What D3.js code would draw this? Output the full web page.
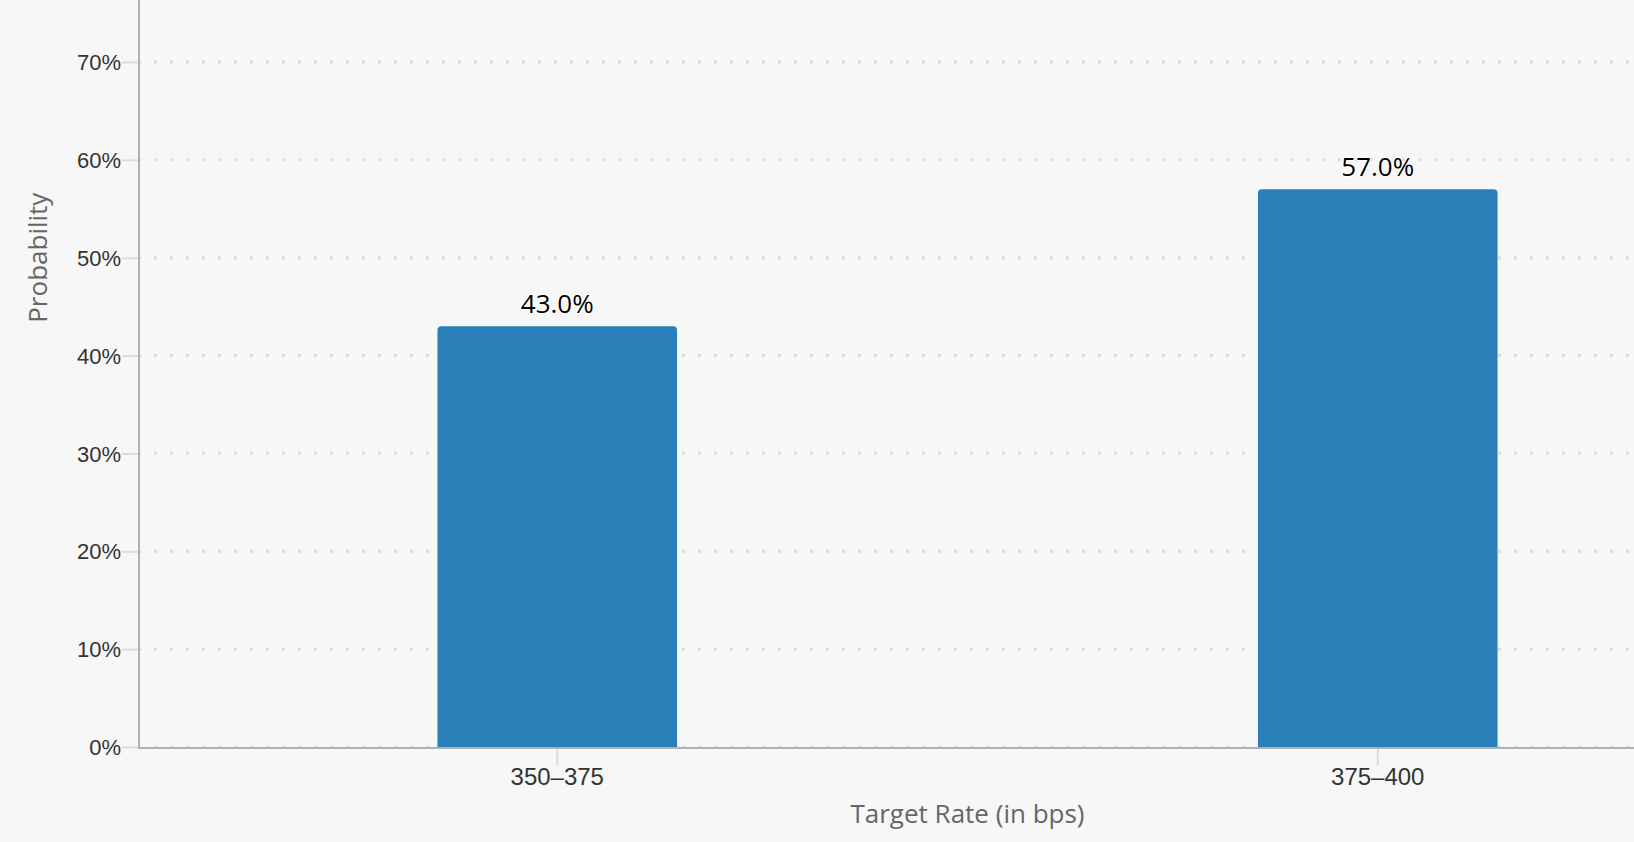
<!DOCTYPE html>
<html>
<head>
<meta charset="utf-8">
<script src="https://cdn.jsdelivr.net/npm/d3@7"></script>
<style>
  html, body { margin: 0; padding: 0; background: #f7f7f7; }
  svg { display: block; font-family: "Open Sans", "Noto Sans", sans-serif; }
</style>
</head>
<body>
<svg id="chart" width="1634" height="842"></svg>
<script>
const categories = ["350\u2013375", "375\u2013400"];
const probabilities = [0.43, 0.57];
const yTickValues = [0, 0.1, 0.2, 0.3, 0.4, 0.5, 0.6, 0.7];

const width = 1634;
const height = 842;
const axisX = 139;
const baseY = 747;

const svg = d3.select("#chart");
svg.selectAll("*").remove();

svg.append("rect")
  .attr("width", width)
  .attr("height", height)
  .attr("fill", "#f7f7f7");

// scales (plot runs past the right edge, as in the cropped original)
const x = d3.scaleBand().domain(categories).range([147, 1788]);
const y = d3.scaleLinear().domain([0, 1]).range([baseY, -231.6]);

// grid
svg.append("g")
  .selectAll("line")
  .data(yTickValues)
  .join("line")
  .attr("x1", axisX)
  .attr("x2", width)
  .attr("y1", (d) => y(d))
  .attr("y2", (d) => y(d))
  .attr("stroke", "#dddddd")
  .attr("stroke-width", 3)
  .attr("stroke-dasharray", "3,13")
  .attr("stroke-dashoffset", 1);

// Y axis
const yAxis = svg.append("g")
  .attr("transform", `translate(${axisX},0)`)
  .call(
    d3.axisLeft(y)
      .tickValues(yTickValues)
      .tickSize(17)
      .tickPadding(1)
      .tickFormat(d3.format(".0%"))
  );
yAxis.select(".domain").remove();
yAxis.selectAll(".tick line").attr("stroke", "#dddddd").attr("stroke-width", 2);
yAxis.selectAll(".tick text")
  .attr("fill", "#333333")
  .style("font-size", "22px")
  .attr("dy", "0.35em");

// X axis
const xAxis = svg.append("g")
  .attr("transform", `translate(0,${baseY + 1})`)
  .call(d3.axisBottom(x).tickSize(17).tickSizeOuter(0));
xAxis.select(".domain").remove();
xAxis.selectAll(".tick line").attr("stroke", "#dddddd").attr("stroke-width", 2);
xAxis.selectAll(".tick text")
  .attr("fill", "#333333")
  .style("font-size", "24px")
  .attr("y", 37)
  .attr("dy", 0);

// Bars with rounded top corners
const barW = x.bandwidth() * 0.292;
const r = 4;
const barPath = (d, i) => {
  const cx = x(categories[i]) + x.bandwidth() / 2;
  const x0 = cx - barW / 2, x1 = cx + barW / 2;
  const top = y(d), bot = y(0);
  return `M${x0},${bot}V${top + r}Q${x0},${top} ${x0 + r},${top}` +
    `H${x1 - r}Q${x1},${top} ${x1},${top + r}V${bot}Z`;
};

svg.append("g")
  .selectAll("path")
  .data(probabilities)
  .join("path")
  .attr("d", barPath)
  .attr("fill", "#2980b9");

// Data labels
svg.append("g")
  .selectAll("text")
  .data(probabilities)
  .join("text")
  .attr("x", (d, i) => x(categories[i]) + x.bandwidth() / 2)
  .attr("y", (d) => y(d) - 13)
  .attr("text-anchor", "middle")
  .attr("fill", "#000000")
  .attr("stroke", "#ffffff")
  .attr("stroke-width", 2)
  .attr("paint-order", "stroke")
  .style("font-size", "26px")
  .text((d) => d3.format(".1%")(d));

// Axis lines
svg.append("line")
  .attr("x1", axisX).attr("x2", axisX)
  .attr("y1", 0).attr("y2", baseY + 2)
  .attr("stroke", "#b0b0b0")
  .attr("stroke-width", 2);
svg.append("line")
  .attr("x1", axisX).attr("x2", width)
  .attr("y1", baseY + 1).attr("y2", baseY + 1)
  .attr("stroke", "#b0b0b0")
  .attr("stroke-width", 2);

// Axis titles
const [r0, r1] = x.range();
svg.append("text")
  .attr("x", (r0 + r1) / 2)
  .attr("y", 823)
  .attr("text-anchor", "middle")
  .attr("fill", "#666666")
  .style("font-size", "26px")
  .text("Target Rate (in bps)");

const [yb, yt] = y.range();
svg.append("text")
  .attr("transform", `translate(47,${(yb + yt) / 2}) rotate(-90)`)
  .attr("text-anchor", "middle")
  .attr("fill", "#666666")
  .style("font-size", "26px")
  .text("Probability");
</script>
</body>
</html>
